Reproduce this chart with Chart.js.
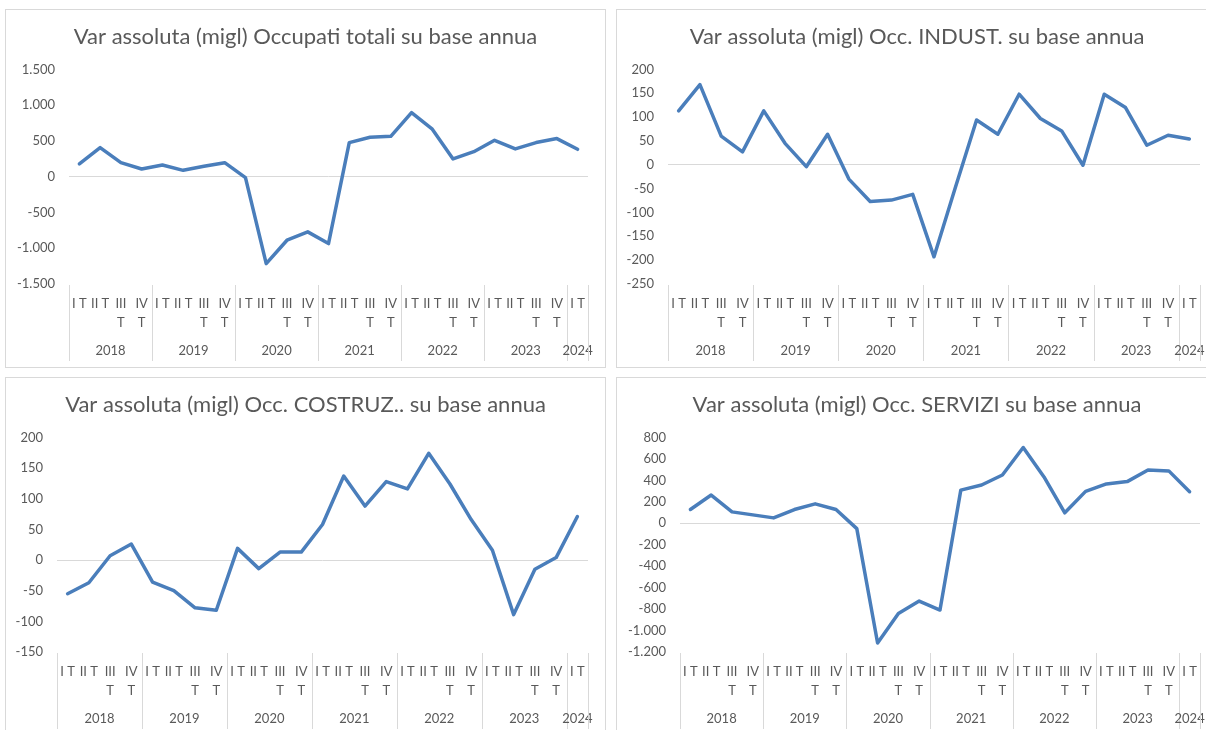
<!DOCTYPE html>
<html lang="it">
<head>
<meta charset="utf-8">
<title>Occupati - variazione assoluta</title>
<script src="https://cdn.jsdelivr.net/npm/chart.js@4.4.1/dist/chart.umd.min.js"></script>
<style>
	body { margin: 0; background: #fff; width: 1206px; height: 730px; overflow: hidden; position: relative; }
	.pannello { position: absolute; border: 1px solid #d9d9d9; box-sizing: border-box; background: #fff; }
	.pannello canvas { display: block; }
</style>
</head>
<body>
<div class="pannello" style="left:5px;top:9px;width:601px;height:359px"><canvas id="graficoTotali" width="599" height="357"></canvas></div>
<div class="pannello" style="left:616px;top:9px;width:602px;height:359px"><canvas id="graficoIndustria" width="600" height="357"></canvas></div>
<div class="pannello" style="left:5px;top:377px;width:601px;height:359px"><canvas id="graficoCostruzioni" width="599" height="357"></canvas></div>
<div class="pannello" style="left:616px;top:377px;width:602px;height:359px"><canvas id="graficoServizi" width="600" height="357"></canvas></div>

<script>
// categorie: trimestri 2018 - I trim. 2024
const trimestri = [
	'I T', 'II T', 'III T', 'IV T',
	'I T', 'II T', 'III T', 'IV T',
	'I T', 'II T', 'III T', 'IV T',
	'I T', 'II T', 'III T', 'IV T',
	'I T', 'II T', 'III T', 'IV T',
	'I T', 'II T', 'III T', 'IV T',
	'I T'
];
const anni = ['2018', '2019', '2020', '2021', '2022', '2023', '2024'];
const trimestriPerAnno = [4, 4, 4, 4, 4, 4, 1];

// variazioni assolute su base annua (migliaia)
const occTotali = [178, 407, 196, 107, 164, 89, 145, 196, -14, -1215, -888, -771, -935, 477, 551, 565, 897, 664, 248, 350, 509, 388, 477, 533, 383];
const occIndustria = [113, 168, 60, 27, 113, 45, -4, 64, -30, -77, -74, -62, -193, -48, 94, 64, 148, 97, 71, -1, 148, 120, 41, 62, 54];
const occCostruzioni = [-55, -37, 7, 26, -36, -50, -78, -82, 19, -14, 13, 13, 58, 137, 88, 128, 116, 174, 124, 66, 16, -89, -15, 4, 71];
const occServizi = [128, 263, 106, 78, 50, 128, 181, 128, -50, -1116, -841, -725, -809, 309, 356, 450, 706, 431, 97, 297, 366, 388, 497, 488, 294];

// tacche asse verticale
const taccheTotali = [-1500, -1000, -500, 0, 500, 1000, 1500];
const taccheIndustria = [-250, -200, -150, -100, -50, 0, 50, 100, 150, 200];
const taccheCostruzioni = [-150, -100, -50, 0, 50, 100, 150, 200];
const taccheServizi = [-1200, -1000, -800, -600, -400, -200, 0, 200, 400, 600, 800];

const GRIGIO_TESTO = '#595959';
const GRIGIO_LINEE = '#d9d9d9';
const BLU = '#4a7ebb';
const MARGINE_DESTRO = 17;

Chart.defaults.font.family = 'Lato, "Open Sans", sans-serif';
Chart.defaults.color = GRIGIO_TESTO;

// formato italiano: 1.500
function formatoIt(v) {
	const s = String(Math.abs(v)).replace(/\B(?=(\d{3})+(?!\d))/g, '.');
	return v < 0 ? '-' + s : s;
}

// separatori verticali e anni sotto le etichette dei trimestri
const etichetteAnni = {
	id: 'etichetteAnni',
	afterDraw(chart) {
		const x = chart.scales.x;
		const area = chart.chartArea;
		const ctx = chart.ctx;
		const passo = x.getPixelForValue(1) - x.getPixelForValue(0);
		let indice = 0;
		let fine = 0;
		ctx.save();
		ctx.strokeStyle = GRIGIO_LINEE;
		ctx.lineWidth = 1;
		ctx.fillStyle = GRIGIO_TESTO;
		ctx.font = '13px Lato';
		ctx.textAlign = 'center';
		ctx.textBaseline = 'middle';
		anni.forEach(function (anno, k) {
			const inizio = x.getPixelForValue(indice) - passo / 2;
			fine = x.getPixelForValue(indice + trimestriPerAnno[k] - 1) + passo / 2;
			const xs = Math.round(inizio) + 0.5;
			ctx.beginPath();
			ctx.moveTo(xs, area.bottom + 1);
			ctx.lineTo(xs, area.bottom + 77);
			ctx.stroke();
			ctx.fillText(anno, (inizio + fine) / 2, area.bottom + 67);
			indice += trimestriPerAnno[k];
		});
		const xf = Math.round(fine) + 0.5;
		ctx.beginPath();
		ctx.moveTo(xf, area.bottom + 1);
		ctx.lineTo(xf, area.bottom + 77);
		ctx.stroke();
		ctx.restore();
	}
};

function creaGrafico(idCanvas, titolo, valori, tacche, larghezzaAsse) {
	const ctx = document.getElementById(idCanvas).getContext('2d');
	return new Chart(ctx, {
		type: 'line',
		data: {
			labels: trimestri,
			datasets: [{
				data: valori,
				borderColor: BLU,
				borderWidth: 3.5,
				pointRadius: 0,
				tension: 0,
				borderJoinStyle: 'round',
				borderCapStyle: 'round',
				fill: false
			}]
		},
		options: {
			responsive: false,
			animation: false,
			devicePixelRatio: 1,
			layout: { padding: 0 },
			plugins: {
				legend: { display: false },
				tooltip: { enabled: false },
				title: {
					display: true,
					text: titolo,
					color: GRIGIO_TESTO,
					font: { size: 22, weight: 'normal' },
					padding: { top: 14, bottom: 19 }
				}
			},
			scales: {
				x: {
					offset: true,
					grid: { display: false, drawTicks: false },
					border: { display: false },
					ticks: {
						autoSkip: false,
						maxRotation: 0,
						minRotation: 0,
						padding: 10,
						color: GRIGIO_TESTO,
						font: { size: 13, lineHeight: '19px' },
						callback: function (v, i) {
							const t = trimestri[i];
							return (t.indexOf('III') === 0 || t.indexOf('IV') === 0) ? t.split(' ') : t;
						}
					},
					afterFit: function (s) { s.height = 83; }
				},
				y: {
					min: tacche[0],
					max: tacche[tacche.length - 1],
					border: { display: false },
					grid: {
						drawTicks: false,
						color: function (c) { return c.tick && c.tick.value === 0 ? GRIGIO_LINEE : 'rgba(0,0,0,0)'; },
						lineWidth: 1
					},
					ticks: {
						padding: 14,
						color: GRIGIO_TESTO,
						font: { size: 13 },
						callback: function (v) { return formatoIt(v); }
					},
					afterBuildTicks: function (s) { s.ticks = tacche.map(function (v) { return { value: v }; }); },
					afterFit: function (s) { s.width = larghezzaAsse; }
				},
				// asse vuoto a destra: solo margine, il titolo resta centrato nel riquadro
				margine: {
					position: 'right',
					grid: { display: false, drawTicks: false },
					border: { display: false },
					ticks: { display: false },
					afterFit: function (s) { s.width = MARGINE_DESTRO; }
				}
			}
		},
		plugins: [etichetteAnni]
	});
}

creaGrafico('graficoTotali', 'Var assoluta (migl) Occupati totali su base annua', occTotali, taccheTotali, 63);
creaGrafico('graficoIndustria', 'Var assoluta (migl) Occ. INDUST. su base annua', occIndustria, taccheIndustria, 51);
creaGrafico('graficoCostruzioni', 'Var assoluta (migl) Occ. COSTRUZ.. su base annua', occCostruzioni, taccheCostruzioni, 51);
creaGrafico('graficoServizi', 'Var assoluta (migl) Occ. SERVIZI su base annua', occServizi, taccheServizi, 63);
</script>
</body>
</html>
